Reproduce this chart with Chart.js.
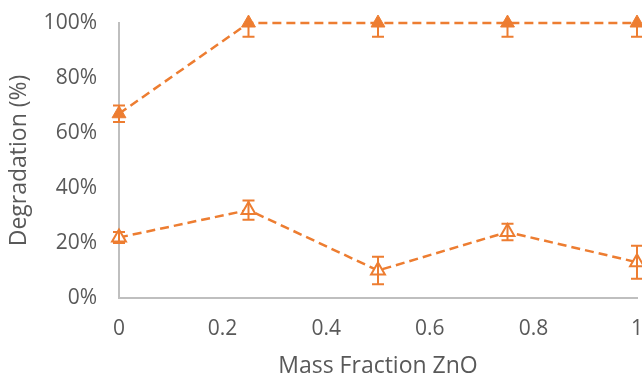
<!DOCTYPE html>
<html>
<head>
<meta charset="utf-8">
<script src="https://cdn.jsdelivr.net/npm/chart.js@4"></script>
<style>
  html, body { margin: 0; padding: 0; background: #fff; overflow: hidden; }
  #wrap { width: 642px; height: 378px; position: relative; }
</style>
</head>
<body>
<div id="wrap"><canvas id="degChart"></canvas></div>
<script>
const massFraction = [0, 0.25, 0.5, 0.75, 1];
const degradationFilled = [67, 100, 100, 100, 100];
const errorFilled = [3, 5, 5, 5, 5];
const degradationOpen = [22, 32, 10, 24, 13];
const errorOpen = [2, 3.5, 5, 3, 6];
const xTicks = [0, 0.2, 0.4, 0.6, 0.8, 1];
const yTicks = [0, 20, 40, 60, 80, 100];

const orange = "#ED7D31";
const textGrey = "#595959";
const axisGrey = "#BFBFBF";
const font = "'Open Sans', 'Noto Sans', sans-serif";

function points(xs, ys) {
  return xs.map((x, i) => ({ x: x, y: ys[i] }));
}

// vertical error bars with caps, kept inside the y range
const errorBars = {
  id: "errorBars",
  afterDatasetsDraw(chart) {
    const ctx = chart.ctx;
    const xs = chart.scales.x, ys = chart.scales.y;
    chart.data.datasets.forEach(ds => {
      if (!ds.errors) return;
      ctx.save();
      ctx.strokeStyle = orange;
      ctx.lineWidth = 2;
      ds.data.forEach((p, i) => {
        const e = ds.errors[i];
        const px = xs.getPixelForValue(p.x);
        const hi = Math.min(p.y + e, ys.max);
        const lo = Math.max(p.y - e, ys.min);
        const yHi = ys.getPixelForValue(hi);
        const yLo = ys.getPixelForValue(lo);
        ctx.beginPath();
        ctx.moveTo(px, yHi);
        ctx.lineTo(px, yLo);
        if (p.y + e <= ys.max) {
          ctx.moveTo(px - 6, yHi);
          ctx.lineTo(px + 6, yHi);
        }
        ctx.moveTo(px - 6, yLo);
        ctx.lineTo(px + 6, yLo);
        ctx.stroke();
      });
      ctx.restore();
    });
  }
};

const ctx = document.getElementById("degChart").getContext("2d");
new Chart(ctx, {
  type: "scatter",
  data: {
    datasets: [
      {
        label: "filled",
        data: points(massFraction, degradationFilled),
        errors: errorFilled,
        showLine: true,
        borderColor: orange,
        borderWidth: 2.5,
        borderDash: [9, 5],
        pointStyle: "triangle",
        pointRadius: 8,
        pointBackgroundColor: orange,
        pointBorderColor: orange,
        pointBorderWidth: 1,
        clip: false
      },
      {
        label: "open",
        data: points(massFraction, degradationOpen),
        errors: errorOpen,
        showLine: true,
        borderColor: orange,
        borderWidth: 2.5,
        borderDash: [9, 5],
        pointStyle: "triangle",
        pointRadius: 8,
        pointBackgroundColor: "#ffffff",
        pointBorderColor: orange,
        pointBorderWidth: 2,
        clip: false
      }
    ]
  },
  options: {
    responsive: true,
    maintainAspectRatio: false,
    animation: false,
    layout: {
      autoPadding: false,
      padding: { top: 23, right: 5, left: 0, bottom: 0 }
    },
    plugins: {
      legend: { display: false },
      tooltip: { enabled: false }
    },
    scales: {
      x: {
        type: "linear",
        min: 0,
        max: 1,
        afterBuildTicks: s => { s.ticks = xTicks.map(v => ({ value: v })); },
        afterFit: s => {
          s.height = 80;
          // let the end labels hang over the edges instead of shrinking the plot
          s.paddingLeft = 0;
          s.paddingRight = 0;
        },
        grid: { display: false, drawTicks: false },
        border: { display: true, color: axisGrey, width: 2 },
        ticks: {
          padding: 18,
          color: textGrey,
          font: { family: font, size: 21 },
          maxRotation: 0,
          callback: v => String(v)
        },
        title: {
          display: true,
          text: "Mass Fraction ZnO",
          color: textGrey,
          font: { family: font, size: 23, lineHeight: 1 },
          padding: { top: 0, bottom: 0 }
        }
      },
      y: {
        min: 0,
        max: 100,
        afterBuildTicks: s => { s.ticks = yTicks.map(v => ({ value: v })); },
        afterFit: s => {
          s.width = 119;
          s.paddingTop = 0;
          s.paddingBottom = 0;
        },
        grid: { display: false, drawTicks: false },
        border: { display: true, color: axisGrey, width: 2 },
        ticks: {
          padding: 22,
          color: textGrey,
          font: { family: font, size: 21 },
          callback: v => v + "%"
        },
        title: {
          display: true,
          text: "Degradation (%)",
          color: textGrey,
          font: { family: font, size: 23, lineHeight: 1 },
          padding: { top: 8, bottom: 0 }
        }
      }
    }
  },
  plugins: [errorBars]
});
</script>
</body>
</html>
